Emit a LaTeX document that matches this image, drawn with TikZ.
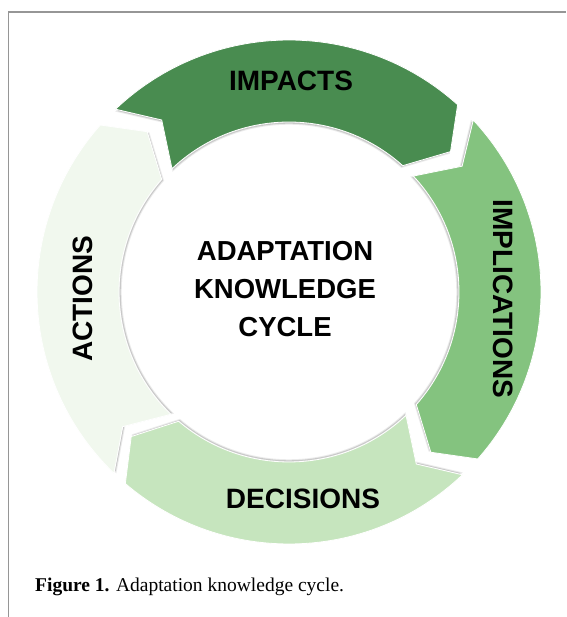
\documentclass[tikz,border=0pt]{standalone}
\usepackage{fontspec}
\setmainfont{Liberation Serif}
\newfontfamily\arialfam{Liberation Sans}
\usetikzlibrary{calc}
\definecolor{gImpacts}{RGB}{73,140,80}
\definecolor{gImpl}{RGB}{132,195,127}
\definecolor{gDec}{RGB}{198,229,190}
\definecolor{gAct}{RGB}{241,248,238}
\definecolor{framegray}{RGB}{150,150,150}
\newcommand\segpath[2]{(#1:252pt) arc[start angle=#1,end angle=#2,radius=252pt] -- ({#2-7}:214pt) -- (#2:170pt) arc[start angle=#2,end angle=#1,radius=170pt] -- ({#1-7}:214pt) -- cycle}
\tikzset{
  segshadow/.style={fill=black, opacity=0.14, draw=black, draw opacity=0.08, line width=2pt},
  segfill/.style={fill=#1, draw=white, line width=0.8pt},
  lab/.style={font=\arialfam\bfseries\fontsize{28}{38}\selectfont, text=black, inner sep=0pt},
  midlab/.style={font=\arialfam\bfseries\fontsize{27.5}{38}\selectfont, text=black, inner sep=0pt, align=center},
}
\begin{document}
\begin{tikzpicture}[x=1pt,y=1pt]
\useasboundingbox (0,0) rectangle (566,617);
\fill[white] (0,0) rectangle (566,617);
\draw[framegray, line width=1.3pt] (8.5,0) -- (8.5,605) -- (566,605);
\begin{scope}[shift={(289,325)}]
  \fill[segshadow, scale=0.99] \segpath{133.5}{48};
  \fill[segshadow, scale=0.99] \segpath{43}{-41.5};
  \fill[segshadow, scale=0.99] \segpath{-46.5}{-130.5};
  \fill[segshadow, scale=0.99] \segpath{226}{138.5};
  \filldraw[segfill=gImpacts] \segpath{133.5}{48};
  \filldraw[segfill=gImpl] \segpath{43}{-41.5};
  \filldraw[segfill=gDec] \segpath{-46.5}{-130.5};
  \filldraw[segfill=gAct] \segpath{226}{138.5};
\end{scope}
\node[lab] (impacts) at (291,536) {IMPACTS};
\node[lab, rotate=-90] (impl) at (503,318) {IMPLICATIONS};
\node[lab] (dec) at (303,118) {DECISIONS};
\node[lab, rotate=90] (act) at (83,318) {ACTIONS};
\node[midlab] (title) at (285,328) {ADAPTATION\\KNOWLEDGE\\CYCLE};
\node[anchor=base west, inner sep=0pt] (cap) at (35,25) {\fontsize{19.5}{22}\selectfont\textbf{Figure 1.} Adaptation knowledge cycle.};
\end{tikzpicture}
\end{document}
